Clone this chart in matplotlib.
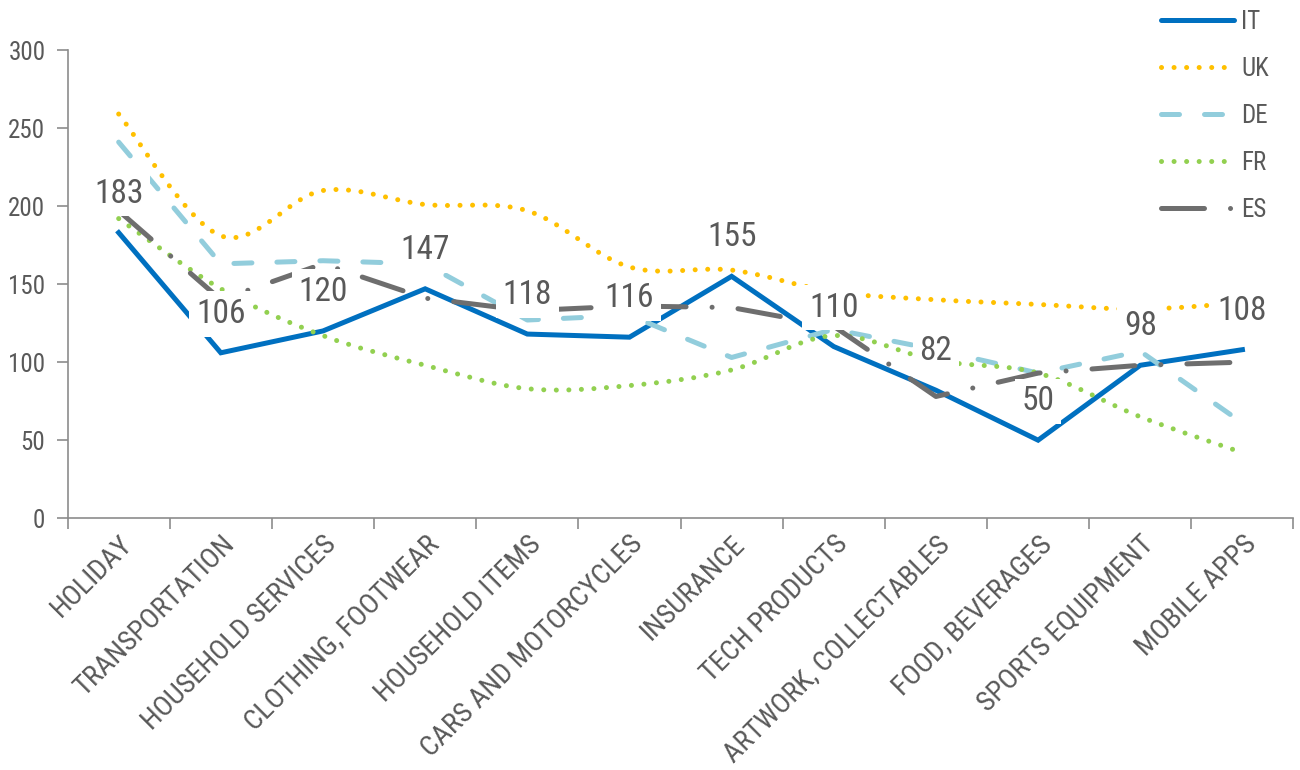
import matplotlib
matplotlib.use('Agg')
import matplotlib.pyplot as plt
from matplotlib.lines import Line2D
from matplotlib.patches import PathPatch
from matplotlib.path import Path
import numpy as np

plt.rcParams['font.family'] = ['Roboto Condensed', 'Liberation Sans Narrow', 'DejaVu Sans']
plt.rcParams['font.stretch'] = 'condensed'

categories = ["HOLIDAY", "TRANSPORTATION", "HOUSEHOLD SERVICES", "CLOTHING, FOOTWEAR",
              "HOUSEHOLD ITEMS", "CARS AND MOTORCYCLES", "INSURANCE", "TECH PRODUCTS",
              "ARTWORK, COLLECTABLES", "FOOD, BEVERAGES", "SPORTS EQUIPMENT", "MOBILE APPS"]
it_vals = [183, 106, 120, 147, 118, 116, 155, 110, 82, 50, 98, 108]
uk_vals = [259, 181, 210, 201, 197, 161, 159, 145, 140, 137, 134, 138]
de_vals = [241, 163, 165, 163, 127, 130, 103, 121, 108, 93, 107, 61]
fr_vals = [192, 147, 117, 98, 83, 85, 95, 117, 101, 93, 65, 42]
es_vals = [197, 140, 163, 141, 133, 136, 135, 123, 78, 93, 98, 100]

TEXT = "#595959"
AXIS = "#8c8c8c"


def smooth_path(ys):
    # Catmull-Rom style bezier through the points (Excel "smoothed line")
    pts = np.column_stack([np.arange(len(ys)), ys]).astype(float)
    verts = [pts[0]]
    codes = [Path.MOVETO]
    n = len(pts)
    for i in range(n - 1):
        p0 = pts[max(i - 1, 0)]
        p1 = pts[i]
        p2 = pts[i + 1]
        p3 = pts[min(i + 2, n - 1)]
        c1 = p1 + (p2 - p0) / 6.0
        c2 = p2 - (p3 - p1) / 6.0
        verts += [c1, c2, p2]
        codes += [Path.CURVE4] * 3
    return Path(verts, codes)


fig = plt.figure(figsize=(13, 7.7), dpi=100)
ax = fig.add_axes([0.052, 0.327, 0.943, 0.608])
x = np.arange(len(categories))

LW = 3.6
dots = (0, (0.01, 2.5))
de_dash = (0, (3.6, 5.0))
es_dash = (0, (8.6, 5.2, 0.01, 5.2))

ax.plot(x, it_vals, color="#0070C0", lw=LW, solid_joinstyle='miter', zorder=3)
ax.add_patch(PathPatch(smooth_path(uk_vals), fill=False, edgecolor="#FFC000", lw=LW,
                       linestyle=dots, capstyle='round', zorder=4))
ax.plot(x, de_vals, color="#92CDDC", lw=LW, linestyle=de_dash,
        dash_capstyle='round', zorder=5)
ax.add_patch(PathPatch(smooth_path(fr_vals), fill=False, edgecolor="#92D050", lw=LW,
                       linestyle=dots, capstyle='round', zorder=6))
ax.plot(x, es_vals, color="#6E6E6E", lw=LW, linestyle=es_dash,
        dash_capstyle='round', zorder=7)

# IT data labels on white boxes
for xi, v in zip(x, it_vals):
    ax.annotate(str(v), (xi, v), xytext=(0, 28), textcoords='offset points',
                ha='center', va='center', fontsize=24, color=TEXT, zorder=10,
                bbox=dict(boxstyle='square,pad=0.2', fc='white', ec='none'))

ax.set_xlim(-0.5, len(categories) - 0.5)
ax.set_ylim(0, 300)
ax.set_yticks(range(0, 301, 50))
ax.tick_params(axis='y', labelsize=18, colors=TEXT, length=8, width=1.2, color=AXIS, pad=8)
ax.set_xticks(x)
ax.set_xticklabels(categories, rotation=45, ha='right', rotation_mode='anchor',
                   fontsize=20.5, color=TEXT)
ax.tick_params(axis='x', which='major', length=0, pad=9)
ax.set_xticks(np.arange(-0.5, len(categories), 1.0), minor=True)
ax.tick_params(axis='x', which='minor', length=8, width=1.2, color=AXIS)

for side in ['top', 'right']:
    ax.spines[side].set_visible(False)
for side in ['left', 'bottom']:
    ax.spines[side].set_color(AXIS)
    ax.spines[side].set_linewidth(1.2)

handles = [
    Line2D([], [], color="#0070C0", lw=LW, solid_capstyle='round'),
    Line2D([], [], color="#FFC000", lw=LW, linestyle=dots, dash_capstyle='round'),
    Line2D([], [], color="#92CDDC", lw=LW, linestyle=de_dash, dash_capstyle='round'),
    Line2D([], [], color="#92D050", lw=LW, linestyle=dots, dash_capstyle='round'),
    Line2D([], [], color="#6E6E6E", lw=LW, linestyle=es_dash, dash_capstyle='round'),
]
fig.legend(handles, ["IT", "UK", "DE", "FR", "ES"], loc='upper left',
           bbox_to_anchor=(0.876, 1.016), frameon=False, fontsize=18,
           labelcolor=TEXT, handlelength=2.9, handletextpad=0.3, labelspacing=0.92)

plt.savefig("out.png", dpi=100)
